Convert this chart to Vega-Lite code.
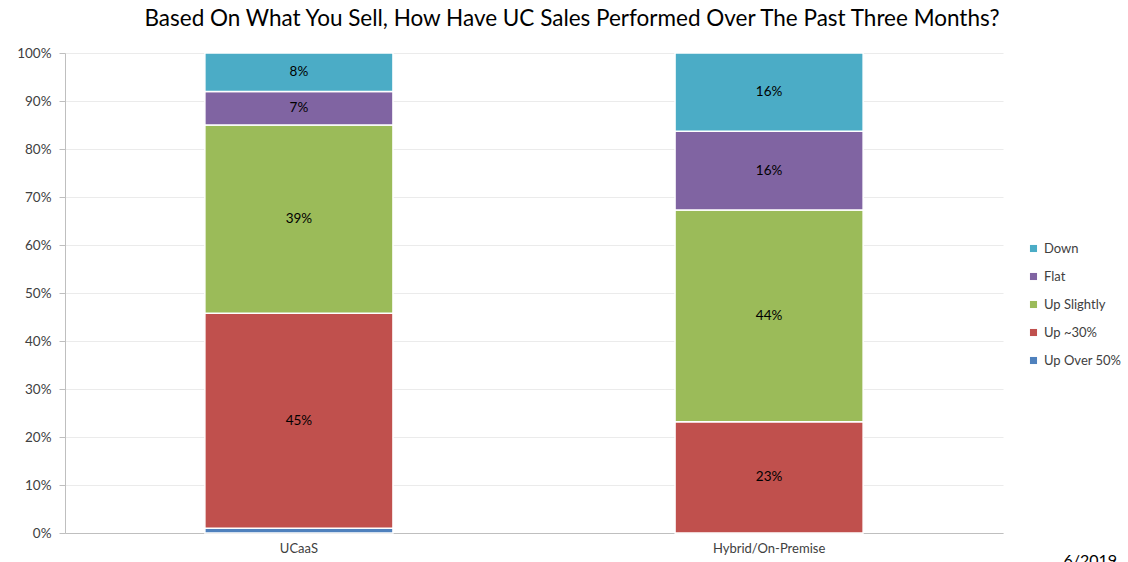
{
  "$schema": "https://vega.github.io/schema/vega-lite/v6.json",
  "autosize": {"type": "none"},
  "padding": {"left": 65, "top": 53, "right": 125, "bottom": 29},
  "width": 938,
  "height": 480,
  "background": "white",
  "title": {
    "text": "Based On What You Sell, How Have UC Sales Performed Over The Past Three Months?",
    "font": "Lato",
    "fontSize": 22.5,
    "fontWeight": "normal",
    "color": "#000000",
    "anchor": "middle",
    "dx": 38,
    "offset": 16
  },
  "config": {
    "view": {"stroke": null},
    "font": "Lato"
  },
  "data": {
    "values": [
      {"type": "UCaaS", "response": "Up Over 50%", "rank": 1, "share": 0.01},
      {"type": "UCaaS", "response": "Up ~30%", "rank": 2, "share": 0.448},
      {"type": "UCaaS", "response": "Up Slightly", "rank": 3, "share": 0.392},
      {"type": "UCaaS", "response": "Flat", "rank": 4, "share": 0.07},
      {"type": "UCaaS", "response": "Down", "rank": 5, "share": 0.08},
      {"type": "Hybrid/On-Premise", "response": "Up Over 50%", "rank": 1, "share": 0.0},
      {"type": "Hybrid/On-Premise", "response": "Up ~30%", "rank": 2, "share": 0.232},
      {"type": "Hybrid/On-Premise", "response": "Up Slightly", "rank": 3, "share": 0.441},
      {"type": "Hybrid/On-Premise", "response": "Flat", "rank": 4, "share": 0.164},
      {"type": "Hybrid/On-Premise", "response": "Down", "rank": 5, "share": 0.163}
    ]
  },
  "encoding": {
    "x": {
      "field": "type",
      "type": "nominal",
      "sort": ["UCaaS", "Hybrid/On-Premise"],
      "scale": {"paddingInner": 0.6, "paddingOuter": 0.2975},
      "axis": {
        "title": "6/2019",
        "titleFont": "Lato",
        "titleFontSize": 16,
        "titleFontWeight": "normal",
        "titleColor": "#000000",
        "titleAlign": "left",
        "titleBaseline": "top",
        "titleX": 998,
        "titleY": 19,
        "labelAngle": 0,
        "labelFont": "Lato",
        "labelFontSize": 13,
        "labelColor": "#404040",
        "labelPadding": 9,
        "domainColor": "#BFBFBF",
        "ticks": false
      }
    },
    "y": {
      "field": "share",
      "type": "quantitative",
      "stack": "zero",
      "scale": {"domain": [0, 1], "nice": false},
      "axis": {
        "title": null,
        "format": ".0%",
        "values": [0, 0.1, 0.2, 0.3, 0.4, 0.5, 0.6, 0.7, 0.8, 0.9, 1.0],
        "labelFont": "Lato",
        "labelFontSize": 13.5,
        "labelColor": "#404040",
        "labelPadding": 8,
        "domainColor": "#BFBFBF",
        "tickColor": "#BFBFBF",
        "tickSize": 6,
        "gridColor": "#EBEBEB",
        "grid": true
      }
    },
    "order": {"field": "rank", "type": "quantitative", "sort": "ascending"}
  },
  "layer": [
    {
      "mark": {"type": "bar", "stroke": "white", "strokeWidth": 1.5},
      "encoding": {
        "color": {
          "field": "response",
          "type": "nominal",
          "sort": ["Up Over 50%", "Up ~30%", "Up Slightly", "Flat", "Down"],
          "scale": {
            "domain": ["Up Over 50%", "Up ~30%", "Up Slightly", "Flat", "Down"],
            "range": ["#4F81BD", "#C0504D", "#9BBB59", "#8064A2", "#4BACC6"]
          },
          "legend": {
            "title": null,
            "values": ["Down", "Flat", "Up Slightly", "Up ~30%", "Up Over 50%"],
            "orient": "none",
            "legendX": 962,
            "legendY": 189,
            "symbolType": "square",
            "symbolSize": 50,
            "symbolStrokeWidth": 0,
            "labelFont": "Lato",
            "labelFontSize": 13,
            "labelColor": "#404040",
            "rowPadding": 14,
            "labelOffset": 4
          }
        }
      }
    },
    {
      "mark": {"type": "text", "font": "Lato", "fontSize": 13.5, "color": "#000000"},
      "encoding": {
        "y": {"field": "share", "type": "quantitative", "stack": "zero", "bandPosition": 0.5},
        "detail": {"field": "response", "type": "nominal"},
        "text": {
          "condition": {"test": "datum.share < 0.02", "value": ""},
          "field": "share",
          "type": "quantitative",
          "format": ".0%"
        }
      }
    }
  ]
}
